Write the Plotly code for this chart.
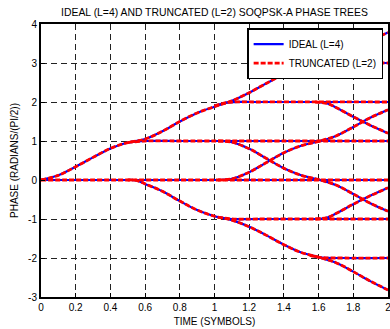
import plotly.graph_objects as go

# ---- data (time in symbols, phase in units of pi/2) ----
main_up_t = [0, 0.1, 0.2, 0.3, 0.4, 0.5, 0.6, 0.7, 0.8, 0.9, 1.0, 1.1, 1.2, 1.3, 1.4, 1.5, 1.6, 1.7, 1.8, 1.9, 2.0]
main_up_y = [0, 0.12, 0.34, 0.58, 0.81, 0.96, 1.05, 1.25, 1.5, 1.72, 1.88, 2.03, 2.24, 2.48, 2.71, 2.87, 2.98, 3.12, 3.35, 3.58, 3.78]

flat0_t = [0, 1.0, 2.0]
flat0_y = [0, 0, 0]

flat1_t = [0.5, 0.6, 0.8, 2.0]
flat1_y = [0.96, 1.0, 1.0, 1.0]

down0_t = [0.5, 0.55, 0.6, 0.7, 0.8, 0.9, 1.0, 1.1, 1.2, 1.3, 1.4, 1.5, 1.6, 1.7, 1.8, 1.9, 2.0]
down0_y = [0, -0.01, -0.1, -0.29, -0.54, -0.77, -0.93, -1.03, -1.2, -1.42, -1.66, -1.86, -1.98, -2.12, -2.35, -2.6, -2.82]

flat2_t = [1.0, 1.08, 1.25, 2.0]
flat2_y = [1.9, 1.99, 2.0, 2.0]

up0b_t = [1.02, 1.1, 1.2, 1.3, 1.4, 1.5, 1.6, 1.7, 1.8, 1.9, 2.0]
up0b_y = [0, 0.03, 0.2, 0.45, 0.7, 0.88, 0.99, 1.13, 1.36, 1.6, 1.8]

down1_t = [1.02, 1.1, 1.2, 1.3, 1.4, 1.5, 1.6, 1.7, 1.8, 1.9, 2.0]
down1_y = [1.0, 0.97, 0.8, 0.55, 0.3, 0.12, 0.01, -0.13, -0.36, -0.6, -0.8]

flatm1_t = [1.02, 1.1, 1.25, 2.0]
flatm1_y = [-0.95, -1.0, -1.0, -1.0]

flat3_t = [1.55, 1.62, 1.75, 2.0]
flat3_y = [2.93, 2.99, 3.0, 3.0]

down2_t = [1.58, 1.65, 1.7, 1.8, 1.9, 2.0]
down2_y = [2.0, 1.96, 1.86, 1.62, 1.4, 1.2]

upm1_t = [1.58, 1.65, 1.7, 1.8, 1.9, 2.0]
upm1_y = [-1.0, -0.96, -0.86, -0.62, -0.4, -0.2]

flatm2_t = [1.55, 1.62, 1.75, 2.0]
flatm2_y = [-1.93, -1.99, -2.0, -2.0]

segments = [
    (main_up_t, main_up_y), (flat0_t, flat0_y), (flat1_t, flat1_y), (down0_t, down0_y),
    (flat2_t, flat2_y), (up0b_t, up0b_y), (down1_t, down1_y), (flatm1_t, flatm1_y),
    (flat3_t, flat3_y), (down2_t, down2_y), (upm1_t, upm1_y), (flatm2_t, flatm2_y),
]

x_ticks = [0, 0.2, 0.4, 0.6, 0.8, 1, 1.2, 1.4, 1.6, 1.8, 2]
x_tick_labels = ["0", "0.2", "0.4", "0.6", "0.8", "1", "1.2", "1.4", "1.6", "1.8", "2"]
y_ticks = [-3, -2, -1, 0, 1, 2, 3, 4]
y_tick_labels = ["-3", "-2", "-1", "0", "1", "2", "3", "4"]

series_names = ["IDEAL (L=4)", "TRUNCATED (L=2)"]


def join(segs):
    xs, ys = [], []
    for t, y in segs:
        xs += list(t) + [None]
        ys += list(y) + [None]
    return xs, ys


all_x, all_y = join(segments)

FONT = "Liberation Sans, Arial, sans-serif"

fig = go.Figure()
fig.add_trace(go.Scatter(
    x=all_x, y=all_y, mode="lines", name=series_names[0],
    line=dict(color="#0000ff", width=2.2, shape="spline"), connectgaps=False,
))
fig.add_trace(go.Scatter(
    x=all_x, y=all_y, mode="lines", name=series_names[1],
    line=dict(color="#ff0000", width=2.8, dash="5px,2px", shape="spline"), connectgaps=False,
))

axis_common = dict(
    showline=True, linecolor="black", linewidth=2, mirror=True,
    showgrid=True, gridcolor="#222222", gridwidth=1, griddash="6px,4px",
    zeroline=False, ticks="inside", ticklen=4, tickcolor="black",
    tickfont=dict(family=FONT, size=10, color="black"),
    ticklabeloverflow="allow",
)

fig.update_layout(
    width=390, height=329,
    margin=dict(l=41, r=2, t=24, b=32, autoexpand=False),
    paper_bgcolor="white", plot_bgcolor="white",
    title=dict(text="IDEAL (L=4) AND TRUNCATED (L=2) SOQPSK-A PHASE TREES",
               x=(41 + 388) / 2 / 390, xanchor="center", y=1 - 12 / 329, yanchor="middle",
               font=dict(family=FONT, size=10.4, color="black")),
    xaxis=dict(range=[0, 2], tickvals=x_ticks, ticktext=x_tick_labels,
               title=dict(text="TIME (SYMBOLS)", font=dict(family=FONT, size=10, color="black"), standoff=6),
               **axis_common),
    yaxis=dict(range=[-3, 4], tickvals=y_ticks, ticktext=y_tick_labels,
               title=dict(text="PHASE (RADIANS/(PI/2))", font=dict(family=FONT, size=10, color="black"), standoff=8),
               **axis_common),
    legend=dict(x=0.986, y=0.985, xanchor="right", yanchor="top",
                bgcolor="white", bordercolor="black", borderwidth=1.5,
                font=dict(family=FONT, size=10, color="black"),
                tracegroupgap=0, itemwidth=30),
    showlegend=True,
)

fig.write_html("out.html", config={"displayModeBar": False},
               post_script="document.body.style.margin='0px';document.body.style.overflow='hidden';")
